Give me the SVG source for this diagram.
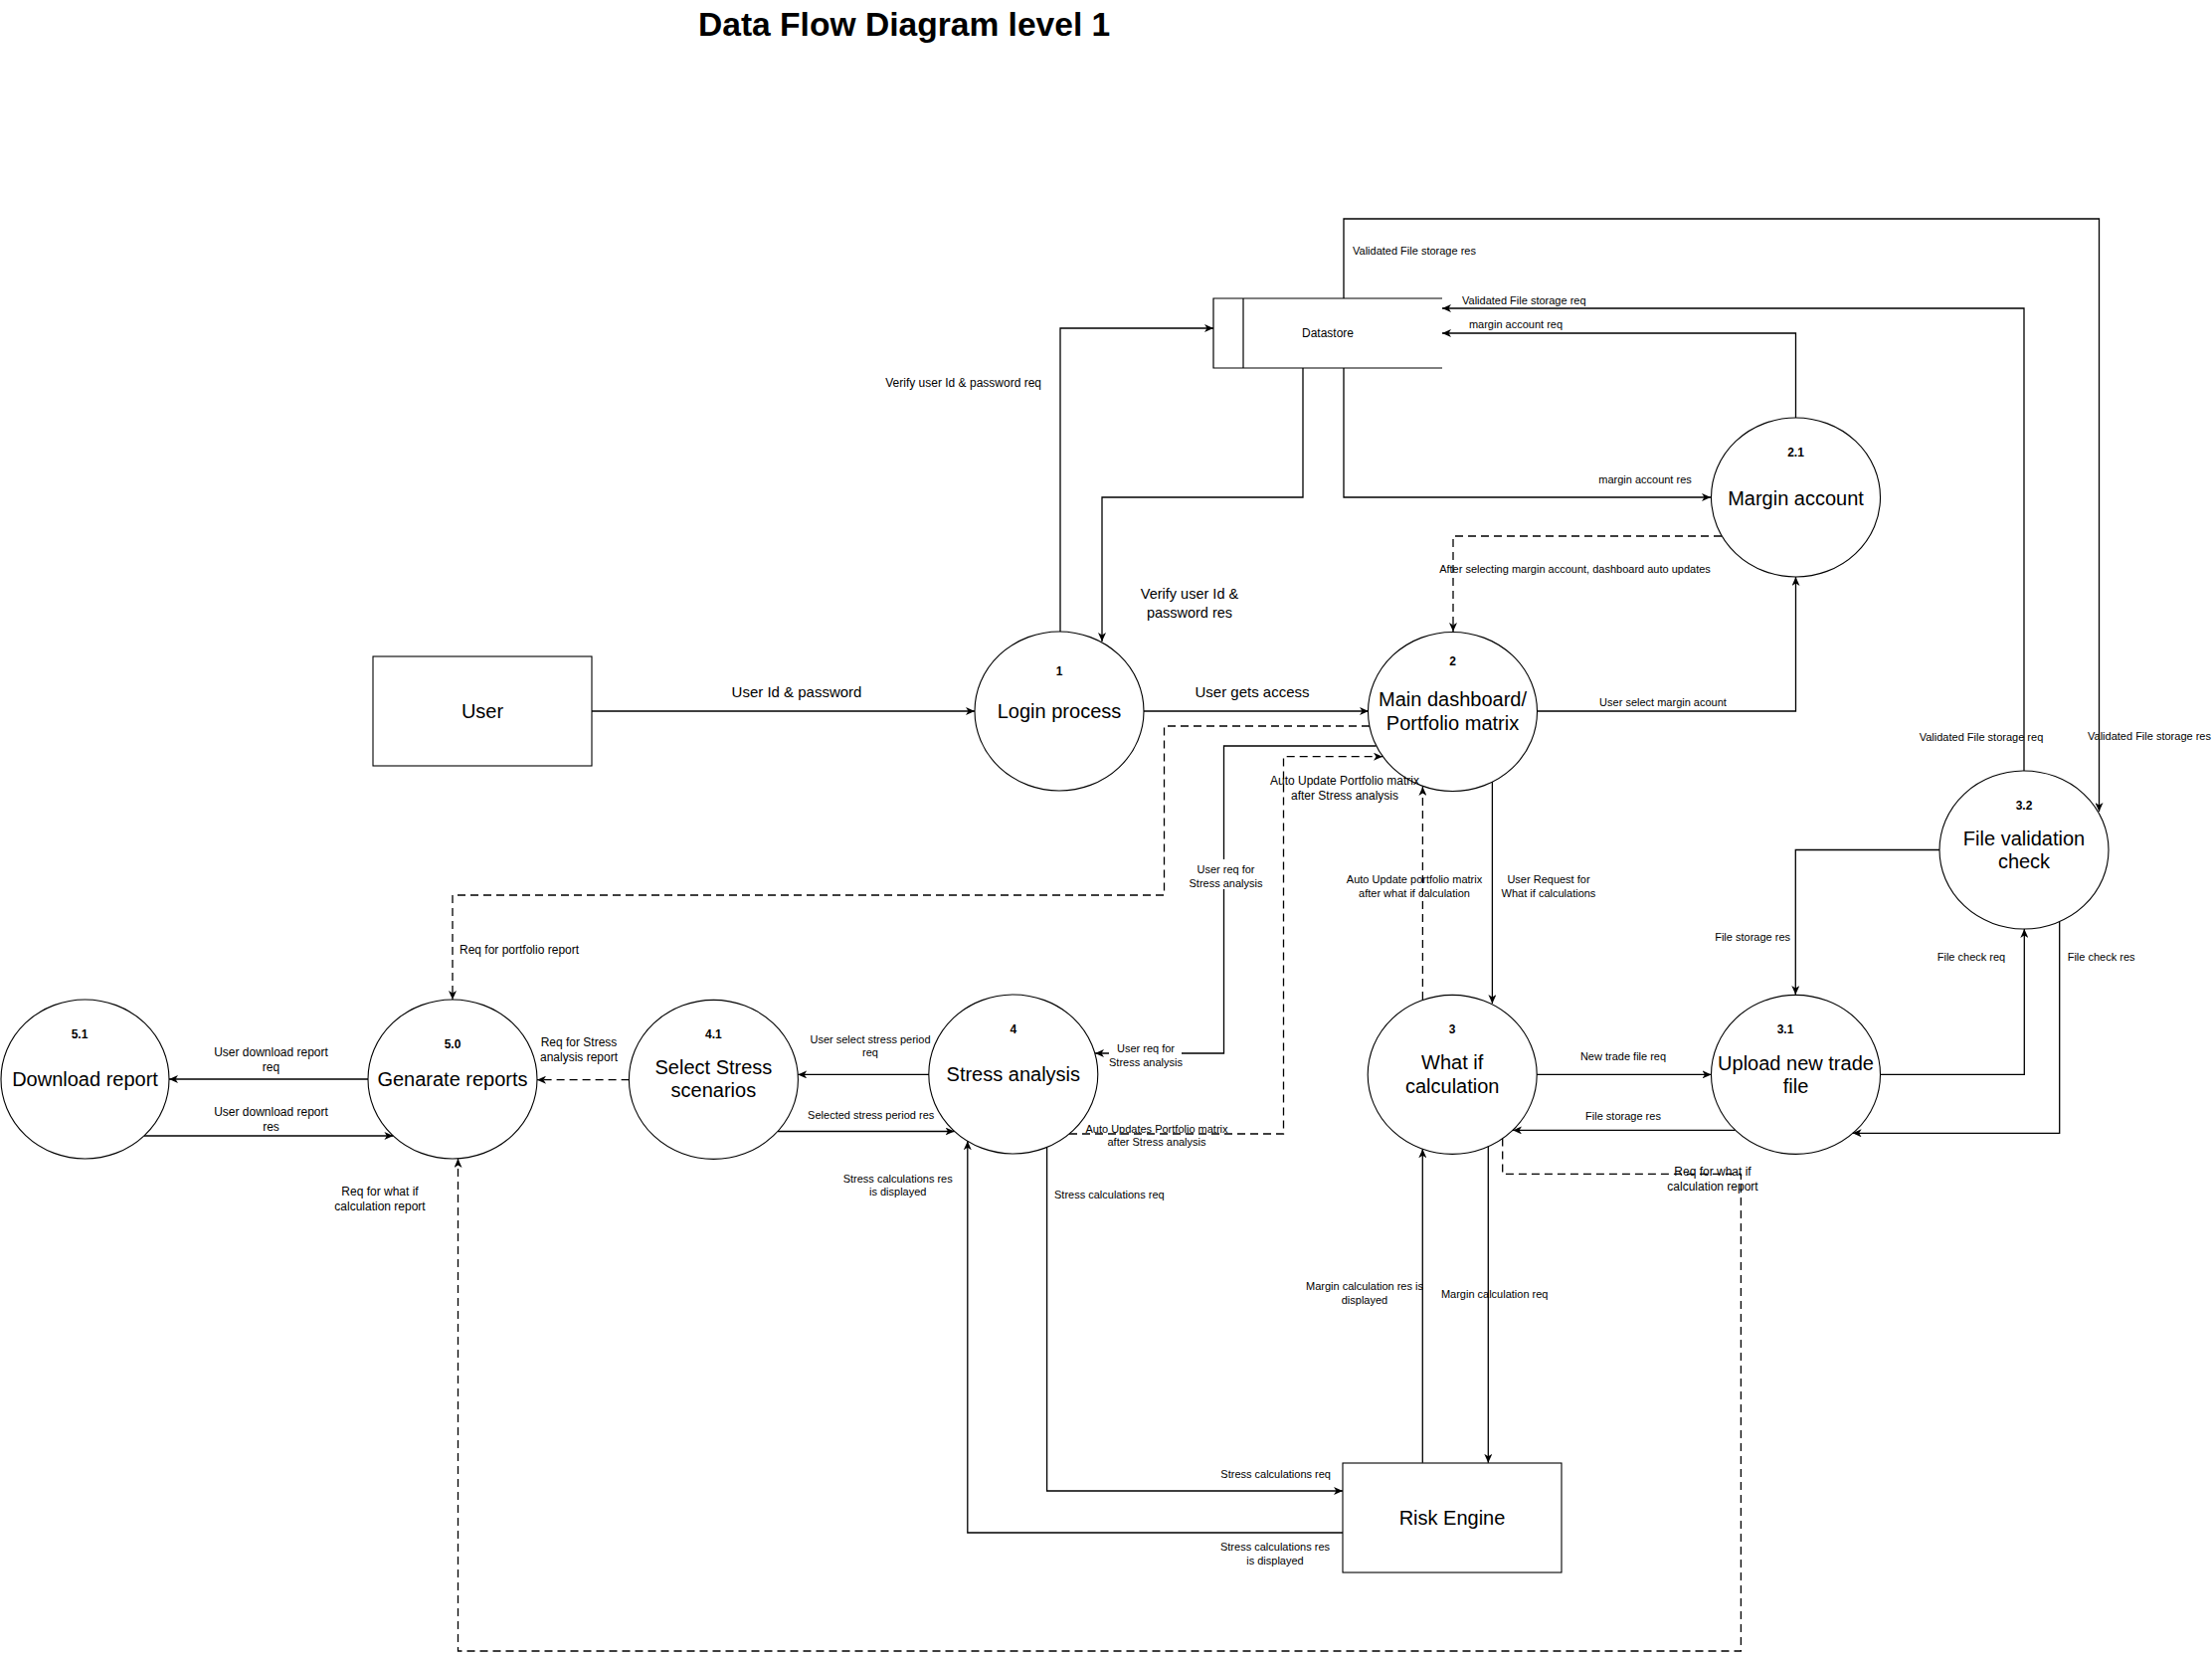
<svg xmlns="http://www.w3.org/2000/svg" width="2224" height="1669" viewBox="0 0 2224 1669">
<defs>
<marker id="arr" markerUnits="userSpaceOnUse" markerWidth="10" markerHeight="8" refX="9" refY="4" orient="auto">
<path d="M0,0 L9,4 L0,8 L2.5,4 Z" fill="#000"/>
</marker>
<style>
text{font-family:"Liberation Sans",Arial,Helvetica,sans-serif;fill:#000}
.shape{fill:#fff;stroke:#000;stroke-width:1.1}
.c{fill:none;stroke:#000;stroke-width:1.3;marker-end:url(#arr)}
.d{stroke-dasharray:8 5}
.node{font-size:20px;text-anchor:middle}
.num{font-size:12px;font-weight:bold;text-anchor:middle}
.t11{font-size:11px;text-anchor:middle}
.t12{font-size:12px;text-anchor:middle}
.t15{font-size:15px;text-anchor:middle}
.l{text-anchor:start}
.r{text-anchor:end}
.bg{fill:#fff}
</style>
</defs>
<rect width="2224" height="1669" fill="#fff"/>
<text x="702" y="36" style="font-size:33.6px;font-weight:bold">Data Flow Diagram level 1</text>

<g id="user"><rect class="shape" x="375" y="660" width="220" height="110"/><text class="node" x="485" y="722">User</text></g>
<g id="datastore"><path d="M1450,300 L1220,300 L1220,370 L1450,370 M1250,300 L1250,370" fill="#fff" stroke="#000" stroke-width="1.2"/><text class="t12" x="1335" y="339.3">Datastore</text></g>
<g id="risk-engine"><rect class="shape" x="1350" y="1471" width="220" height="110"/><text class="node" x="1460" y="1533">Risk Engine</text></g>
<g id="p1"><ellipse class="shape" cx="1065" cy="715" rx="85" ry="80"/><text class="num" x="1065" y="679.3">1</text><text class="node" x="1065" y="722">Login process</text></g>
<g id="p2"><ellipse class="shape" cx="1460.5" cy="715.5" rx="85" ry="80"/><text class="num" x="1460.5" y="669.3">2</text><text class="node" x="1460.5" y="710.3">Main dashboard/</text><text class="node" x="1460.5" y="734.3">Portfolio matrix</text></g>
<g id="p2-1"><ellipse class="shape" cx="1805.5" cy="500" rx="85" ry="80"/><text class="num" x="1805.5" y="459.3">2.1</text><text class="node" x="1805.5" y="507.7">Margin account</text></g>
<g id="p3-2"><ellipse class="shape" cx="2035" cy="854.5" rx="85" ry="79.5"/><text class="num" x="2035" y="814.3">3.2</text><text class="node" x="2035" y="849.9">File validation</text><text class="node" x="2035" y="873.1">check</text></g>
<g id="p3-1"><ellipse class="shape" cx="1805.5" cy="1080.4" rx="85" ry="80"/><text class="num" x="1795" y="1039.3">3.1</text><text class="node" x="1805.5" y="1075.6">Upload new trade</text><text class="node" x="1805.5" y="1099.1">file</text></g>
<g id="p3"><ellipse class="shape" cx="1460.2" cy="1080.4" rx="85" ry="80"/><text class="num" x="1460.2" y="1038.9">3</text><text class="node" x="1460.2" y="1074.9">What if</text><text class="node" x="1460.2" y="1099">calculation</text></g>
<g id="p4"><ellipse class="shape" cx="1018.8" cy="1080" rx="85" ry="80"/><text class="num" x="1018.8" y="1038.9">4</text><text class="node" x="1018.8" y="1087">Stress analysis</text></g>
<g id="p4-1"><ellipse class="shape" cx="717.4" cy="1085.4" rx="85" ry="80"/><text class="num" x="717.4" y="1043.6">4.1</text><text class="node" x="717.4" y="1080">Select Stress</text><text class="node" x="717.4" y="1103.4">scenarios</text></g>
<g id="p5-0"><ellipse class="shape" cx="455" cy="1085" rx="85" ry="80"/><text class="num" x="455" y="1054.3">5.0</text><text class="node" x="455" y="1092">Genarate reports</text></g>
<g id="p5-1"><ellipse class="shape" cx="85.5" cy="1085" rx="84.5" ry="80"/><text class="num" x="80" y="1044.3">5.1</text><text class="node" x="85.5" y="1092">Download report</text></g>

<g id="connectors">
<g id="e-user-login"><path class="c" d="M595,715 L980,715"/><text class="t15" x="801" y="701">User Id &amp; password</text></g>
<g id="e-login-main"><path class="c" d="M1150,715 L1376,715"/><text class="t15" x="1259" y="701">User gets access</text></g>
<g id="e-login-ds"><path class="c" d="M1066,635 L1066,330 L1220,330"/><text class="t12 r" x="1047" y="389">Verify user Id &amp; password req</text></g>
<g id="e-ds-login"><path class="c" d="M1310,370 L1310,500 L1108,500 L1108,645"/><text style="font-size:14.5px;text-anchor:middle" x="1196" y="602">Verify user Id &amp;</text><text style="font-size:14.5px;text-anchor:middle" x="1196" y="621">password res</text></g>
<g id="e-ds-margin"><path class="c" d="M1351,370 L1351,500 L1720,500"/><text class="t11" x="1654" y="485.5">margin account res</text></g>
<g id="e-margin-ds"><path class="c" d="M1805.5,420 L1805.5,335 L1450,335"/><text class="t11" x="1524" y="329.5">margin account req</text></g>
<g id="e-check-ds"><path class="c" d="M2035,775 L2035,310 L1450,310"/><text class="t11 l" x="1470" y="305.5">Validated File storage req</text><text class="t11" x="1992" y="745">Validated File storage req</text></g>
<g id="e-ds-check"><path class="c" d="M1351,300 L1351,220 L2110.5,220 L2110.5,816"/><text class="t11 l" x="1360" y="255.5">Validated File storage res</text><text class="t11" x="2161" y="744">Validated File storage res</text></g>
<g id="e-main-margin"><path class="c" d="M1545,715 L1805.5,715 L1805.5,580"/><text class="t11" x="1672" y="709.5">User select margin acount</text></g>
<g id="e-margin-main"><path class="c d" d="M1731,539 L1461,539 L1461,635"/><text class="t11" x="1583.5" y="575.5">After selecting margin account, dashboard auto updates</text></g>
<g id="e-main-gen"><path class="c d" d="M1377,730 L1170.5,730 L1170.5,900 L455,900 L455,1005"/><text class="t12 l" x="462" y="959">Req for portfolio report</text></g>
<g id="e-main-stress"><path class="c" d="M1383.5,750 L1230.5,750 L1230.5,1059 L1101,1059"/>
<rect class="bg" x="1196" y="864" width="73" height="30"/><text class="t11" x="1232.5" y="878">User req for</text><text class="t11" x="1232.5" y="892">Stress analysis</text>
<rect class="bg" x="1115" y="1044" width="73" height="30"/><text class="t11" x="1152" y="1058">User req for</text><text class="t11" x="1152" y="1072">Stress analysis</text></g>
<g id="e-stress-main"><path class="c d" d="M1075,1140 L1290.5,1140 L1290.5,760.7 L1390,760.7"/><text class="t12" x="1352" y="788.5">Auto Update Portfolio matrix</text><text class="t12" x="1352" y="803.5">after Stress analysis</text><text class="t11" x="1163" y="1138.5">Auto Updates Portfolio matrix</text><text class="t11" x="1163" y="1152">after Stress analysis</text></g>
<g id="e-main-whatif"><path class="c" d="M1500.4,786 L1500.4,1009"/><text class="t11" x="1557" y="888">User Request for</text><text class="t11" x="1557" y="902">What if calculations</text></g>
<g id="e-whatif-main"><path class="c d" d="M1430.4,1005 L1430.4,791"/><text class="t11" x="1422" y="888">Auto Update portfolio matrix</text><text class="t11" x="1422" y="902">after what if calculation</text></g>
<g id="e-whatif-upload"><path class="c" d="M1545,1080.4 L1720.5,1080.4"/><text class="t11" x="1632" y="1065.5">New trade file req</text></g>
<g id="e-upload-whatif"><path class="c" d="M1744.5,1136.4 L1521,1136.4"/><text class="t11" x="1632" y="1125.5">File storage res</text></g>
<g id="e-check-upload"><path class="c" d="M1950,854.5 L1805.3,854.5 L1805.3,1000"/><text class="t11 r" x="1800" y="945.5">File storage res</text></g>
<g id="e-upload-check"><path class="c" d="M1890.5,1080.4 L2035.3,1080.4 L2035.3,934"/><text class="t11" x="1982" y="965.5">File check req</text></g>
<g id="e-check-upload2"><path class="c" d="M2070.7,926.8 L2070.7,1139.3 L1862.6,1139.3"/><text class="t11 l" x="2078.7" y="965.5">File check res</text></g>
<g id="e-whatif-gen"><path class="c d" d="M1510.7,1144.6 L1510.7,1180.4 L1750.4,1180.4 L1750.4,1660 L460.5,1660 L460.5,1165"/><text class="t12" x="1722" y="1182">Req for what if</text><text class="t12" x="1722" y="1197">calculation report</text><text class="t12" x="382" y="1202">Req for what if</text><text class="t12" x="382" y="1217">calculation report</text></g>
<g id="e-whatif-risk"><path class="c" d="M1496.3,1152.8 L1496.3,1470.8"/><text class="t11" x="1502.7" y="1304.7">Margin calculation req</text></g>
<g id="e-risk-whatif"><path class="c" d="M1430.3,1470.8 L1430.3,1155.3"/><text class="t11" x="1372" y="1296.7">Margin calculation res is</text><text class="t11" x="1372" y="1310.5">displayed</text></g>
<g id="e-stress-risk"><path class="c" d="M1052.6,1153.4 L1052.6,1499 L1350,1499"/><text class="t11 l" x="1060" y="1205">Stress calculations req</text><text class="t11 r" x="1338" y="1485.7">Stress calculations req</text></g>
<g id="e-risk-stress"><path class="c" d="M1350,1541 L972.8,1541 L972.8,1147.3"/><text class="t11" x="902.7" y="1188.6">Stress calculations res</text><text class="t11" x="902.7" y="1202.2">is displayed</text><text class="t11" x="1282" y="1559">Stress calculations res</text><text class="t11" x="1282" y="1572.9">is displayed</text></g>
<g id="e-stress-select"><path class="c" d="M934,1080.4 L802.2,1080.4"/><text class="t11" x="875" y="1048.6">User select stress period</text><text class="t11" x="875" y="1062.2">req</text></g>
<g id="e-select-stress"><path class="c" d="M782,1137.5 L959.5,1137.5"/><text class="t11" x="875.7" y="1125">Selected stress period res</text></g>
<g id="e-select-gen"><path class="c d" d="M632.6,1085.7 L540,1085.7"/><text class="t12" x="582" y="1051.8">Req for Stress</text><text class="t12" x="582" y="1066.8">analysis report</text></g>
<g id="e-gen-download"><path class="c" d="M370,1085 L170,1085"/><text class="t12" x="272.5" y="1062">User download report</text><text class="t12" x="272.5" y="1077">req</text></g>
<g id="e-download-gen"><path class="c" d="M145,1142 L395.4,1142"/><text class="t12" x="272.5" y="1122">User download report</text><text class="t12" x="272.5" y="1137">res</text></g>
</g>
</svg>
